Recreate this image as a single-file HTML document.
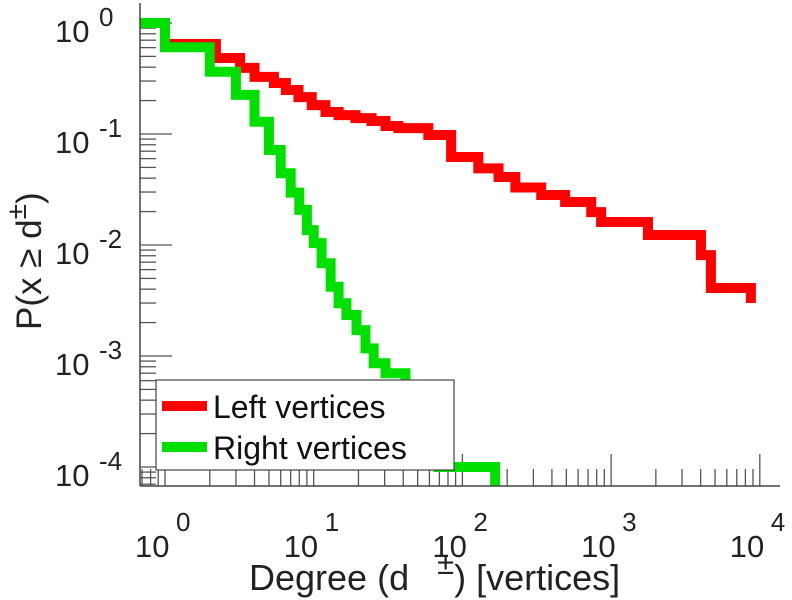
<!DOCTYPE html>
<html><head><meta charset="utf-8">
<style>
html,body{margin:0;padding:0;background:#fff;}
svg{display:block;font-family:"Liberation Sans",Arial,sans-serif;}
</style></head>
<body>
<svg id="chart" width="792" height="600" viewBox="0 0 792 600" xmlns="http://www.w3.org/2000/svg">
  <defs><clipPath id="plotclip"><rect x="140" y="3" width="640" height="483"/></clipPath></defs>
  <g id="ticks"></g>
  <g id="series" clip-path="url(#plotclip)"></g>
  <line x1="140" y1="3" x2="140" y2="486" stroke="#444" stroke-width="1.5"/>
  <line x1="140" y1="486" x2="780" y2="486" stroke="#444" stroke-width="1.5"/>
  <g id="labels" fill="#222"></g>
  <text x="249" y="590" font-size="36" fill="#222">Degree (d<tspan dy="-16" dx="28" font-size="31">±</tspan><tspan dy="16">) [vertices]</tspan></text>
  <text transform="translate(41,330) rotate(-90)" font-size="35" fill="#222">P(x ≥ d<tspan dy="-15" font-size="28">±</tspan><tspan dy="15">)</tspan></text>
  <g>
    <rect x="156" y="380" width="298" height="90" fill="#fff" stroke="#444" stroke-width="1.2"/>
    <line x1="162" y1="406" x2="207" y2="406" stroke="#ff0000" stroke-width="10"/>
    <text x="213" y="418" font-size="32" fill="#111">Left vertices</text>
    <line x1="162" y1="447" x2="207" y2="447" stroke="#00e000" stroke-width="10"/>
    <text x="213" y="459" font-size="32" fill="#111">Right vertices</text>
  </g>
</svg>
<script>
// Left vertices: step breakpoints (degree) and CCDF levels
const leftDegrees = [0.67, 1, 2.2, 3.2, 4.0, 5.4, 6.5, 7.9, 9.7, 12, 14.7, 19.1, 24.5, 30.4, 37.1, 59, 84, 128, 175, 227, 339, 491, 735, 857, 1770, 4020, 4690, 8710];
const leftProbs   = [1, 0.647, 0.484, 0.394, 0.327, 0.288, 0.249, 0.215, 0.182, 0.158, 0.148, 0.139, 0.131, 0.118, 0.113, 0.098, 0.062, 0.049, 0.041, 0.033, 0.0282, 0.0244, 0.0198, 0.0161, 0.0123, 0.0081, 0.0041, 0.0030];
// Right vertices
const rightDegrees = [0.67, 1, 2, 3, 4, 5, 6, 7, 8, 9, 10, 11.3, 13, 14.7, 16.6, 19.4, 22.3, 25.3, 30.4, 41.4, 55, 69, 87, 166];
const rightProbs   = [1, 0.604, 0.364, 0.225, 0.129, 0.0718, 0.0443, 0.0296, 0.0207, 0.0136, 0.0104, 0.00684, 0.00421, 0.00299, 0.00234, 0.00171, 0.00117, 0.00086, 0.00070, 0.0004, 0.0002, 0.0001, 0.0001, 0.00001];
const xTickExps = [0, 1, 2, 3, 4];
const yTickExps = [0, -1, -2, -3, -4];

const NS = "http://www.w3.org/2000/svg";
function xs(d){ return 165 + 148.7 * Math.log10(d); }
function ys(p){ return 23 - 111 * Math.log10(p); }

const series = document.getElementById('series');
function stairs(deg, pr, color, name){
  let d = 'M' + xs(deg[0]) + ' ' + ys(pr[0]);
  for (let i = 1; i < deg.length; i++){
    d += ' H' + xs(deg[i]) + ' V' + ys(pr[i]);
  }
  const p = document.createElementNS(NS, 'path');
  p.setAttribute('d', d);
  p.setAttribute('fill', 'none');
  p.setAttribute('stroke', color);
  p.setAttribute('stroke-width', '10');
  p.setAttribute('stroke-linejoin', 'miter');
  
  
  series.appendChild(p);
}
stairs(leftDegrees, leftProbs, '#ff0000', 'left-vertices-line');
stairs(rightDegrees, rightProbs, '#00e000', 'right-vertices-line');

const ticks = document.getElementById('ticks');
function tline(x1,y1,x2,y2,name){
  const l = document.createElementNS(NS, 'line');
  l.setAttribute('x1', x1); l.setAttribute('y1', y1);
  l.setAttribute('x2', x2); l.setAttribute('y2', y2);
  l.setAttribute('stroke', '#555'); l.setAttribute('stroke-width', '1.3');
  
  
  ticks.appendChild(l);
}
for (let e = -1; e <= 4; e++){
  for (let m = 1; m <= 9; m++){
    const v = m * Math.pow(10, e);
    const x = xs(v);
    if (x < 140 || x > 780) continue;
    if (m === 1) tline(x, 486, x, 454, 'x-major-tick');
    else tline(x, 486, x, 469, 'x-minor-tick');
  }
}
for (let e = -5; e <= 0; e++){
  for (let m = 1; m <= 9; m++){
    const v = m * Math.pow(10, e);
    const y = ys(v);
    if (y < 3 || y > 486) continue;
    if (m === 1) tline(140, y, 172, y, 'y-major-tick');
    else tline(140, y, 156, y, 'y-minor-tick');
  }
}
const labels = document.getElementById('labels');
function powLabel(x, y, e, name, supDx, supDy){
  const base = document.createElementNS(NS, 'text');
  base.setAttribute('x', x); base.setAttribute('y', y);
  base.setAttribute('font-size', '31');
  
  
  base.textContent = '10';
  labels.appendChild(base);
  const sup = document.createElementNS(NS, 'text');
  sup.setAttribute('x', x + supDx); sup.setAttribute('y', y - supDy);
  sup.setAttribute('font-size', '26');
  
  
  sup.textContent = String(e);
  labels.appendChild(sup);
}
xTickExps.forEach(function(e){
  powLabel(xs(Math.pow(10, e)) - 30, 557, e, 'x-tick-label', 41, 26);
});
yTickExps.forEach(function(e){
  powLabel(55, ys(Math.pow(10, e)) + 19, e, 'y-tick-label', 44, 16);
});
</script>
</body></html>
